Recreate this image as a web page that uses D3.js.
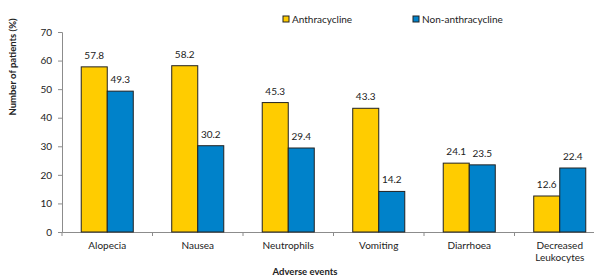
<!DOCTYPE html>
<html>
<head>
<meta charset="utf-8">
<script src="https://cdn.jsdelivr.net/npm/d3@7"></script>
<style>
  body { margin: 0; background: #fff; }
  text { font-family: Lato, "Open Sans", sans-serif; fill: #222; }
</style>
</head>
<body>
<div id="chart"></div>
<script>
// chart data
var categories = ["Alopecia", "Nausea", "Neutrophils", "Vomiting", "Diarrhoea", "Decreased\nLeukocytes"];
var seriesNames = ["Anthracycline", "Non-anthracycline"];
var anthracycline = [57.8, 58.2, 45.3, 43.3, 24.1, 12.6];
var nonAnthracycline = [49.3, 30.2, 29.4, 14.2, 23.5, 22.4];
var yTicks = [0, 10, 20, 30, 40, 50, 60, 70];

var w = 594, h = 278;
var colors = ["#FFCC00", "#0082CA"];

var svg = d3.select("#chart").append("svg")
    .attr("width", w)
    .attr("height", h);

// scales
var x = d3.scaleBand().domain(d3.range(categories.length)).range([62, 605]).paddingInner(0).paddingOuter(0);
var xs = d3.scaleBand().domain([0, 1]).range([0, x.bandwidth() * 0.575]);
var y = d3.scaleLinear().domain([0, 70]).range([232, 32]);

// y axis
var yAxis = svg.append("g")
    .attr("transform", "translate(62,0)")
    .call(d3.axisLeft(y).tickValues(yTicks).tickSize(4).tickPadding(6));
yAxis.select(".domain").attr("stroke", "#8c8c8c");
yAxis.selectAll(".tick line").attr("stroke", "#8c8c8c");
yAxis.selectAll("text").style("font-size", "10px").style("font-family", "Lato, sans-serif").attr("fill", "#222");

// x axis line + ticks at category boundaries
var xAxis = svg.append("g")
    .attr("transform", "translate(0,232)")
    .call(d3.axisBottom(x).tickSize(0).tickFormat(""));
xAxis.select(".domain").attr("stroke", "#8c8c8c");
xAxis.selectAll(".tick").remove();
xAxis.selectAll(".bound")
    .data(d3.range(categories.length + 1))
    .enter().append("line")
    .attr("x1", function(d) { return x.step() * d + 62; })
    .attr("x2", function(d) { return x.step() * d + 62; })
    .attr("y1", 0).attr("y2", 4)
    .attr("stroke", "#8c8c8c");

// category labels
var catLabels = svg.selectAll(".cat")
    .data(categories)
    .enter().append("text")
    .attr("class", "cat")
    .attr("text-anchor", "middle")
    .style("font-size", "10px");
catLabels.each(function(d, i) {
  var t = d3.select(this);
  d.split("\n").forEach(function(line, j) {
    t.append("tspan")
      .attr("x", x(i) + x.bandwidth() / 2)
      .attr("y", 249 + j * 12)
      .text(line);
  });
});

// bars
var series = [anthracycline, nonAnthracycline];
series.forEach(function(vals, s) {
  var off = (x.bandwidth() - x.bandwidth() * 0.575) / 2;
  svg.selectAll(".bar" + s)
      .data(vals)
      .enter().append("rect")
      .attr("x", function(d, i) { return x(i) + off + xs(s); })
      .attr("y", function(d) { return y(d); })
      .attr("width", xs.bandwidth())
      .attr("height", function(d) { return y(0) - y(d); })
      .attr("fill", colors[s])
      .attr("stroke", "#222")
      .attr("stroke-width", 1);

  svg.selectAll(".lab" + s)
      .data(vals)
      .enter().append("text")
      .attr("x", function(d, i) { return x(i) + off + xs(s) + xs.bandwidth() / 2; })
      .attr("y", function(d) { return y(d) - 8; })
      .attr("text-anchor", "middle")
      .style("font-size", "10px")
      .text(function(d) { return d.toFixed(1); });
});

// legend
var legendX = [283, 413];
seriesNames.forEach(function(name, s) {
  svg.append("rect")
      .attr("x", legendX[s]).attr("y", 16)
      .attr("width", 6).attr("height", 6)
      .attr("fill", colors[s]).attr("stroke", "#222");
  svg.append("text")
      .attr("x", legendX[s] + 9).attr("y", 23)
      .style("font-size", "10px")
      .text(name);
});

// axis titles
svg.append("text")
    .attr("transform", "translate(16,67) rotate(-90)")
    .attr("text-anchor", "middle")
    .style("font-size", "9.5px")
    .style("font-weight", "bold")
    .text("Number of patients (%)");

svg.append("text")
    .attr("x", 305).attr("y", 275)
    .attr("text-anchor", "middle")
    .style("font-size", "9.5px")
    .style("font-weight", "bold")
    .text("Adverse events");
</script>
</body>
</html>
